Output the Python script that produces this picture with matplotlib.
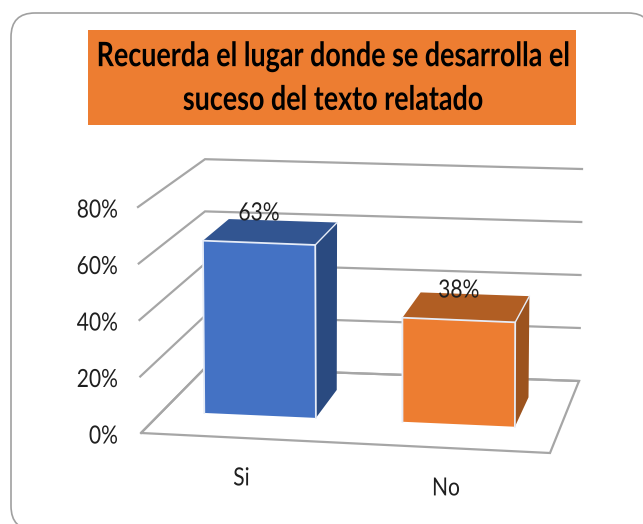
import matplotlib
matplotlib.use("Agg")
import matplotlib.pyplot as plt
from matplotlib.patches import Polygon, Rectangle, FancyBboxPatch
from matplotlib.patheffects import AbstractPathEffect
from matplotlib.transforms import Affine2D

categories = ["Si", "No"]
values = [0.625, 0.375]
value_labels = ["63%", "38%"]
tick_values = [0.0, 0.2, 0.4, 0.6, 0.8]
tick_labels = ["0%", "20%", "40%", "60%", "80%"]
title_lines = "Recuerda el lugar donde se desarrolla el\nsuceso del texto relatado"
front_colors = ["#4472C4", "#ED7D31"]
top_colors = ["#325591", "#B15E23"]
side_colors = ["#2A4A80", "#9C531E"]
bar_spans = [(0.105, 0.386), (0.604, 0.887)]
bar_depth = (0.337, 0.75)

FONT = ["Lato", "DejaVu Sans"]
GRID = "#A6A6A6"
TEXT = "#1F1F1F"

FL, FR, BL, BR = (141, 433), (550, 453), (205, 368), (579, 381)
HFL, HFR, HBL, HBR = (-3.75, -282.5), (0, -286), (0, -261), (3.75, -265)


class Squeeze(AbstractPathEffect):
    """Narrow the glyphs horizontally around an anchor column (the reference is a squashed image)."""

    def __init__(self, sx, anchor):
        super().__init__()
        self.sx, self.anchor = sx, anchor

    def draw_path(self, renderer, gc, tpath, affine, rgbFace=None):
        t = affine + Affine2D().translate(-self.anchor, 0).scale(self.sx, 1).translate(self.anchor, 0)
        renderer.draw_path(gc, tpath, t, rgbFace)


def bil(a, b, c, d, u, t):
    return tuple((1 - t) * ((1 - u) * a[i] + u * b[i]) + t * ((1 - u) * c[i] + u * d[i]) for i in (0, 1))


def P(u, t, v=0.0):
    b = bil(FL, FR, BL, BR, u, t)
    h = bil(HFL, HFR, HBL, HBR, u, t)
    return (b[0] + v * h[0], b[1] + v * h[1])


fig = plt.figure(figsize=(6.43, 5.24), dpi=100)
ax = fig.add_axes([0, 0, 1, 1])
ax.set_xlim(0, 643)
ax.set_ylim(524, 0)
ax.axis("off")


def label(x, y, s, ha="center", size=18, sx=0.84, **kw):
    t = ax.text(x, y, s, ha=ha, va="center", fontsize=size, family=FONT, zorder=6, **kw)
    t.set_path_effects([Squeeze(sx, x)])
    return t


ax.add_patch(FancyBboxPatch((11, 13), 641, 517, boxstyle="round,pad=0,rounding_size=24",
                            fc="white", ec="#A0A0A0", lw=1.2, zorder=0))

ax.add_patch(Rectangle((88, 30), 488, 95, fc="#ED7D31", ec="none", zorder=1))
label(333, 78, title_lines, size=24.2, sx=0.8, fontweight="bold", color="black", linespacing=1.45)

# floor
ax.add_patch(Polygon([P(0, 0), P(1, 0), P(1, 1), P(0, 1)], closed=True, fc="none", ec=GRID,
                     lw=1.6, joinstyle="miter", zorder=2))
# gridlines and ticks
for v, lab in zip(tick_values, tick_labels):
    pts = [P(0, 0, v), P(0, 1, v), P(1, 1, v)]
    ax.plot(*zip(*pts), color=GRID, lw=1.6, zorder=2, solid_joinstyle="miter")
    label(118, P(0, 0, v)[1] + 3, lab, ha="right", color=TEXT)

d0, d1 = bar_depth
for cat, val, lab, (u0, u1), fc, tc, sc in zip(categories, values, value_labels, bar_spans,
                                               front_colors, top_colors, side_colors):
    side = [P(u1, d0), P(u1, d1), P(u1, d1, val), P(u1, d0, val)]
    top = [P(u0, d0, val), P(u1, d0, val), P(u1, d1, val), P(u0, d1, val)]
    front = [P(u0, d0), P(u1, d0), P(u1, d0, val), P(u0, d0, val)]
    ax.add_patch(Polygon(side, closed=True, fc=sc, ec="none", zorder=3))
    ax.add_patch(Polygon(top, closed=True, fc=tc, ec="none", zorder=3))
    ax.add_patch(Polygon(front, closed=True, fc=fc, ec="none", zorder=4))
    ax.plot(*zip(P(u0, d0), P(u0, d0, val), P(u1, d0, val), P(u1, d0)), color="#E6ECF7", lw=1.3, zorder=5)
    ax.plot(*zip(P(u1, d0, val), P(u1, d1, val)), color="#E6ECF7", lw=1.0, zorder=5)
    cx, cy = P((u0 + u1) / 2, d0, val)
    label(cx, cy - 30, lab, color=TEXT)
    lx, ly = P((u0 + u1) / 2, 0)
    label(lx, ly + 40, cat, color=TEXT)

fig.savefig("out.png", dpi=100)
